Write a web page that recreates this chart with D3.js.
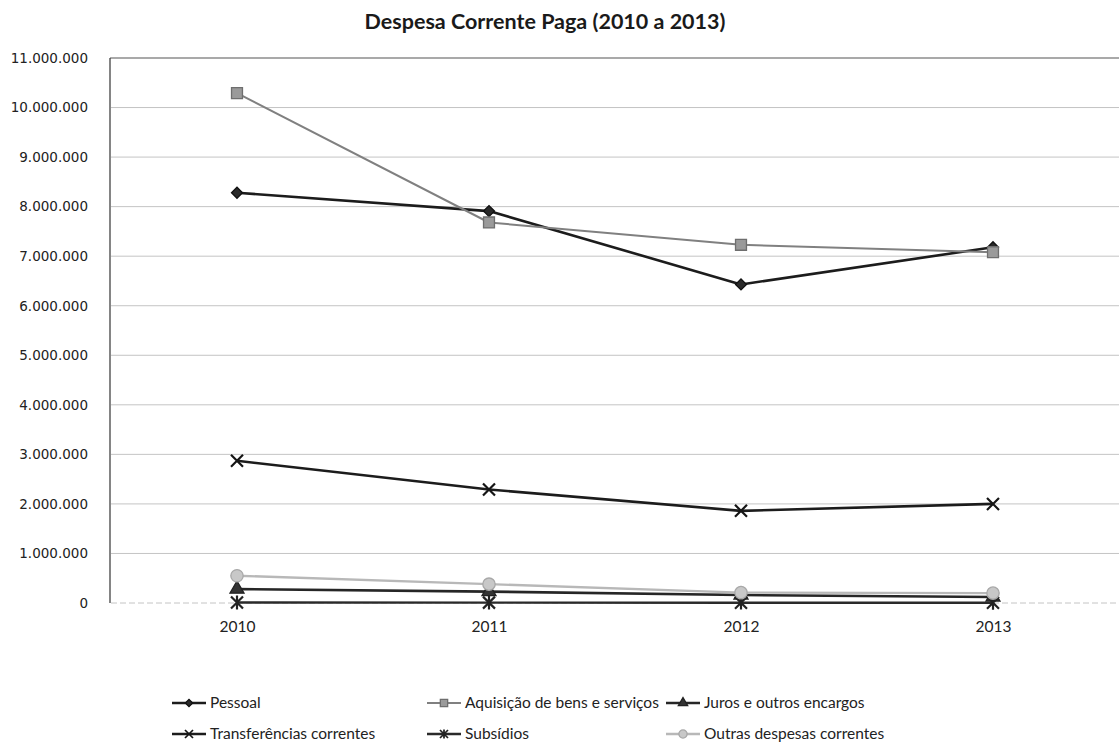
<!DOCTYPE html>
<html>
<head>
<meta charset="utf-8">
<script src="https://cdn.jsdelivr.net/npm/d3@7"></script>
<style>
  html, body { margin: 0; padding: 0; background: #fff; }
  svg { display: block; }
</style>
</head>
<body>
<svg id="chart" width="1120" height="744"></svg>
<script>
// Despesa corrente paga por rubrica, 2010–2013 (euros)
const years = ["2010", "2011", "2012", "2013"];
const yTicks = [0, 1000000, 2000000, 3000000, 4000000, 5000000, 6000000, 7000000, 8000000, 9000000, 10000000, 11000000];

const pessoal        = [8280000, 7910000, 6430000, 7180000];
const aquisicao      = [10290000, 7680000, 7230000, 7080000];
const juros          = [280000, 230000, 160000, 120000];
const transferencias = [2870000, 2290000, 1860000, 2000000];
const subsidios      = [10000, 8000, 6000, 5000];
const outras         = [550000, 380000, 210000, 200000];

const seriesNames = [
  "Pessoal",
  "Aquisição de bens e serviços",
  "Juros e outros encargos",
  "Transferências correntes",
  "Subsídios",
  "Outras despesas correntes"
];

const svg = d3.select("#chart");

const plot = { left: 111, right: 1119, top: 58, bottom: 603 };

const x = d3.scalePoint().domain(years).range([plot.left, plot.right]).padding(0.5);
const y = d3.scaleLinear().domain([0, 11000000]).range([plot.bottom, plot.top]);

const fmt = v => d3.format(",")(v).replace(/,/g, ".");

// Look of each series: line colour/width and marker style
const styles = [
  { values: pessoal,        stroke: "#1c1c1c", width: 2.6, marker: "diamond",  fill: "#2a2a2a", mstroke: "#111" },
  { values: aquisicao,      stroke: "#808080", width: 2.0, marker: "square",   fill: "#9a9a9a", mstroke: "#6e6e6e" },
  { values: juros,          stroke: "#262626", width: 2.6, marker: "triangle", fill: "#333",    mstroke: "#222" },
  { values: transferencias, stroke: "#1c1c1c", width: 2.6, marker: "x",        fill: "none",    mstroke: "#151515" },
  { values: subsidios,      stroke: "#2a2a2a", width: 2.4, marker: "star",     fill: "none",    mstroke: "#222" },
  { values: outras,         stroke: "#b8b8b8", width: 2.4, marker: "circle",   fill: "#c8c8c8", mstroke: "#a8a8a8" }
];

// Title
svg.append("text")
  .attr("x", 545).attr("y", 29)
  .attr("text-anchor", "middle")
  .style("font-family", "Lato, 'Open Sans', sans-serif")
  .style("font-weight", "bold")
  .style("font-size", "21.5px")
  .style("fill", "#1a1a1a")
  .text("Despesa Corrente Paga (2010 a 2013)");

// Horizontal gridlines
svg.append("g")
  .selectAll("line")
  .data(yTicks.filter(t => t < 11000000))
  .join("line")
  .attr("x1", plot.left).attr("x2", plot.right)
  .attr("y1", d => y(d)).attr("y2", d => y(d))
  .attr("stroke", "#c4c4c4")
  .attr("stroke-width", 1)
  .attr("stroke-dasharray", d => d === 0 ? "6,3" : null);

// Plot frame: top and left edges
svg.append("line")
  .attr("x1", plot.left - 1).attr("x2", plot.right)
  .attr("y1", plot.top).attr("y2", plot.top)
  .attr("stroke", "#555").attr("stroke-width", 1.2);
svg.append("line")
  .attr("x1", plot.left - 1).attr("x2", plot.left - 1)
  .attr("y1", plot.top).attr("y2", plot.bottom)
  .attr("stroke", "#333").attr("stroke-width", 1.2);

// Y axis labels
const yAxis = d3.axisLeft(y).tickValues(yTicks).tickFormat(fmt).tickSize(0).tickPadding(22);
const gy = svg.append("g").attr("transform", `translate(${plot.left - 1},0)`).call(yAxis);
gy.select(".domain").remove();
gy.selectAll("text")
  .style("font-family", "'DejaVu Sans', Verdana, sans-serif")
  .style("font-size", "13.5px")
  .style("fill", "#222");

// X axis labels
const xAxis = d3.axisBottom(x).tickSize(0).tickPadding(18);
const gx = svg.append("g").attr("transform", `translate(0,${plot.bottom})`).call(xAxis);
gx.select(".domain").remove();
gx.selectAll("text")
  .style("font-family", "Lato, 'Open Sans', sans-serif")
  .style("font-size", "15.5px")
  .style("fill", "#222");

// Marker drawing
function drawMarker(g, s, size) {
  const k = size / 12;
  if (s.marker === "x" || s.marker === "star") {
    const r = 6 * k;
    g.append("path")
      .attr("d", `M${-r},${-r}L${r},${r}M${-r},${r}L${r},${-r}` + (s.marker === "star" ? `M0,${-r * 1.15}L0,${r * 1.15}` : ""))
      .attr("stroke", s.mstroke).attr("stroke-width", 2.2 * Math.max(k, 0.8)).attr("fill", "none");
    return;
  }
  if (s.marker === "diamond") {
    // square turned 45°
    g.append("path")
      .attr("d", d3.symbol().type(d3.symbolSquare).size(60 * k * k)())
      .attr("transform", "rotate(45)")
      .attr("fill", s.fill).attr("stroke", s.mstroke).attr("stroke-width", 1.3);
    return;
  }
  const types = {
    square: [d3.symbolSquare, 120],
    triangle: [d3.symbolTriangle, 85],
    circle: [d3.symbolCircle, 120]
  };
  const [type, area] = types[s.marker];
  g.append("path")
    .attr("d", d3.symbol().type(type).size(area * k * k)())
    .attr("fill", s.fill).attr("stroke", s.mstroke).attr("stroke-width", 1.3);
}

const line = d3.line().x((d, i) => x(years[i])).y(d => y(d));

// Series lines and markers
styles.forEach(s => {
  const g = svg.append("g");
  g.append("path")
    .attr("d", line(s.values))
    .attr("fill", "none")
    .attr("stroke", s.stroke)
    .attr("stroke-width", s.width)
    .attr("stroke-linejoin", "round");
  s.values.forEach((v, i) => {
    const m = g.append("g").attr("transform", `translate(${x(years[i])},${y(v)})`);
    drawMarker(m, s, 12);
  });
});

// Legend (two rows, three columns)
const legendCols = [172, 427, 666];
const legendRows = [703, 734];
seriesNames.forEach((name, i) => {
  const s = styles[i];
  const col = i % 3, row = Math.floor(i / 3);
  const lx = legendCols[col], ly = legendRows[row];
  const g = svg.append("g").attr("transform", `translate(${lx},${ly})`);
  g.append("line")
    .attr("x1", 0).attr("x2", 34).attr("y1", 0).attr("y2", 0)
    .attr("stroke", s.stroke).attr("stroke-width", s.width);
  const m = g.append("g").attr("transform", "translate(17,0)");
  drawMarker(m, s, 8);
  g.append("text")
    .attr("x", 38).attr("y", 5)
    .style("font-family", "Lato, 'Open Sans', sans-serif")
    .style("font-size", "15.5px")
    .style("fill", "#222")
    .text(name);
});
</script>
</body>
</html>
